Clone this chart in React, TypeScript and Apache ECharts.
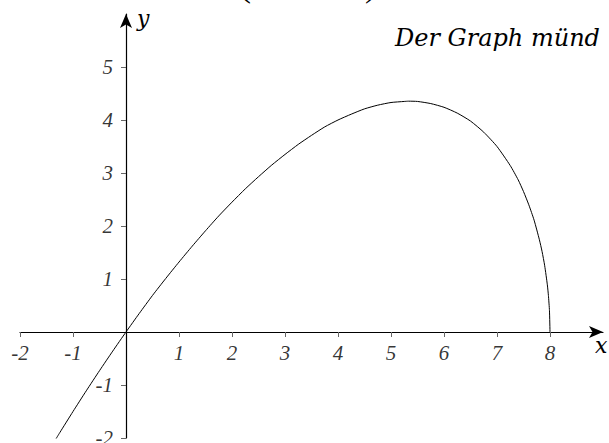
import React, { useEffect, useRef } from "react";
import * as echarts from "echarts";

// Curve readings (x, y)
const curveX = [
  -1.33, -1.25, -1, -0.75, -0.5, -0.25, 0, 0.25, 0.5, 0.75, 1, 1.25, 1.5, 1.75, 2,
  2.25, 2.5, 2.75, 3, 3.25, 3.5, 3.75, 4, 4.25, 4.5, 4.75, 5, 5.25, 5.33, 5.5,
  5.75, 6, 6.25, 6.5, 6.75, 7, 7.25, 7.4, 7.5, 7.6, 7.7, 7.8, 7.85, 7.9, 7.95,
  7.97, 7.99, 8,
];
const curveY = [
  -2.03, -1.9, -1.5, -1.11, -0.73, -0.36, 0, 0.35, 0.69, 1.01, 1.32, 1.62, 1.91,
  2.19, 2.45, 2.7, 2.93, 3.15, 3.35, 3.54, 3.71, 3.87, 4.0, 4.11, 4.21, 4.28, 4.33,
  4.35, 4.355, 4.35, 4.31, 4.24, 4.13, 3.98, 3.77, 3.5, 3.14, 2.87, 2.65, 2.4,
  2.11, 1.74, 1.52, 1.25, 0.89, 0.69, 0.4, 0,
];

const xTicks = [-2, -1, 1, 2, 3, 4, 5, 6, 7, 8];
const yTicks = [-2, -1, 1, 2, 3, 4, 5];

const xAxisName = "x";
const yAxisName = "y";
const noteText = "Der Graph münd";

const NUM_FONT = "Liberation Serif";
const TXT_FONT = "DejaVu Serif";

export default function App() {
  const ref = useRef<HTMLDivElement>(null);

  useEffect(() => {
    if (!ref.current) return;
    const chart = echarts.init(ref.current, undefined, { renderer: "svg" });
    const data = curveX.map((x, i) => [x, curveY[i]]);
    const axisCommon = {
      type: "value" as const,
      splitLine: { show: false },
      axisLabel: { show: false },
      axisLine: {
        show: true,
        onZero: true,
        symbol: ["none", "arrow"],
        symbolSize: [9, 14],
        lineStyle: { color: "#000", width: 1.2 },
      },
    };
    chart.setOption({
      animation: false,
      backgroundColor: "#fff",
      grid: {
        left: 20,
        right: 6,
        top: 14,
        bottom: 5,
        containLabel: false,
        outerBoundsMode: "none",
      },
      xAxis: {
        ...axisCommon,
        min: -2,
        max: 9,
        axisTick: {
          show: true,
          length: 5,
          customValues: xTicks,
          lineStyle: { color: "#666", width: 1 },
        },
      },
      yAxis: {
        ...axisCommon,
        min: -2,
        max: 6,
        axisTick: {
          show: true,
          length: 5,
          customValues: yTicks,
          lineStyle: { color: "#666", width: 1 },
        },
      },
      series: [
        {
          type: "line",
          data,
          showSymbol: false,
          smooth: 0.2,
          lineStyle: { color: "#000", width: 1 },
          silent: true,
        },
        {
          type: "scatter",
          data: xTicks.map((v) => [v, 0]),
          symbolSize: 0,
          silent: true,
          label: {
            show: true,
            position: "bottom",
            distance: 10,
            formatter: (p: any) => String(p.value[0]),
            color: "#000",
            fontFamily: NUM_FONT,
            fontStyle: "italic",
            fontSize: 21,
          },
        },
        {
          type: "scatter",
          data: yTicks.map((v) => [0, v]),
          symbolSize: 0,
          silent: true,
          label: {
            show: true,
            position: "left",
            distance: 13,
            formatter: (p: any) => String(p.value[1]),
            color: "#000",
            fontFamily: NUM_FONT,
            fontStyle: "italic",
            fontSize: 21,
          },
        },
      ],
      graphic: [
        {
          type: "text",
          left: 595,
          top: 334,
          style: { text: xAxisName, fill: "#000", font: `italic 22px ${TXT_FONT}` },
        },
        {
          type: "text",
          left: 137,
          top: 7,
          style: { text: yAxisName, fill: "#000", font: `italic 22px ${TXT_FONT}` },
        },
        {
          type: "text",
          left: 395,
          top: 26,
          style: { text: noteText, fill: "#000", font: `italic 24px ${TXT_FONT}` },
        },
        {
          type: "text",
          left: 239,
          top: -34,
          style: { text: "(", fill: "#000", font: `36px ${NUM_FONT}` },
        },
        {
          type: "text",
          left: 365,
          top: -34,
          style: { text: ")", fill: "#000", font: `36px ${NUM_FONT}` },
        },
      ],
    });
    return () => chart.dispose();
  }, []);

  return (
    <div
      ref={ref}
      style={{ position: "absolute", left: 0, top: 0, width: 609, height: 443 }}
    />
  );
}
